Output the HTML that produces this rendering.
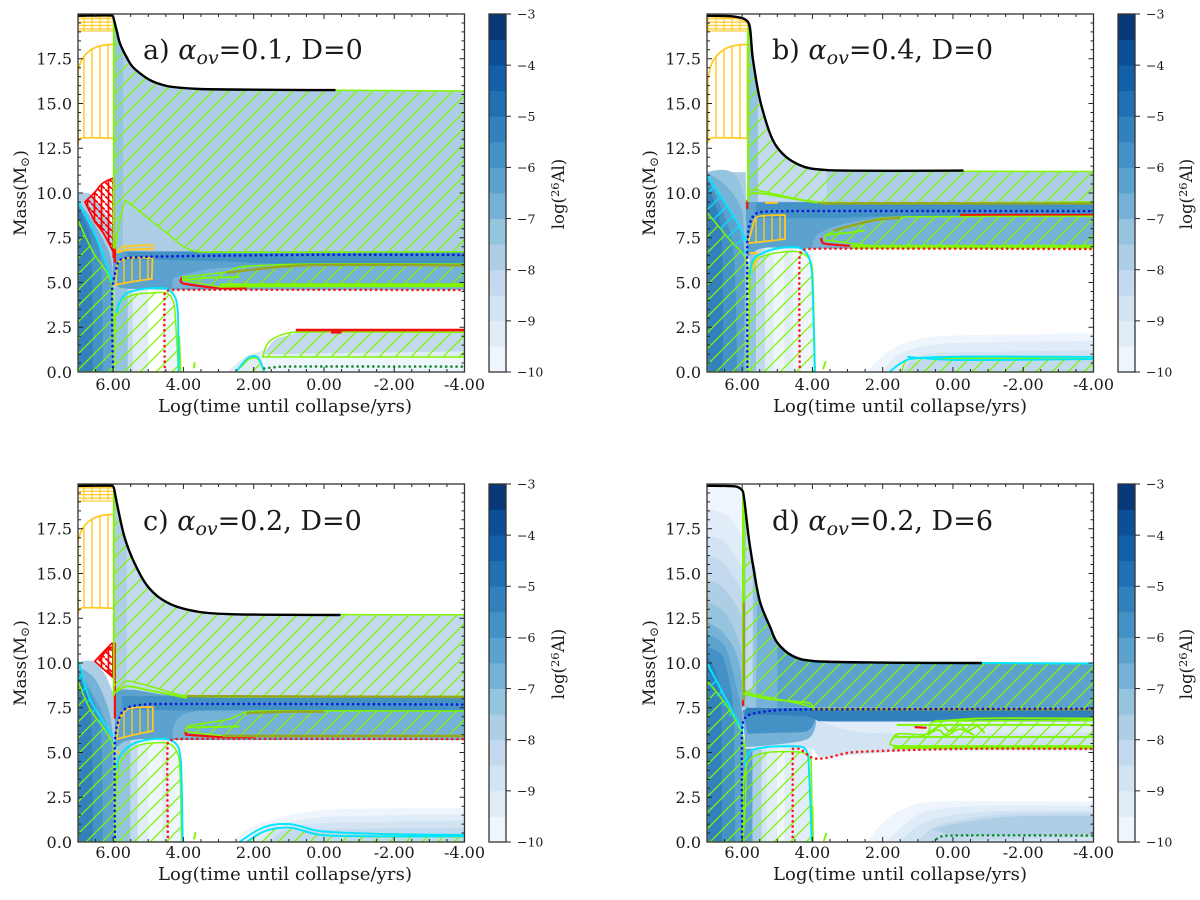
<!DOCTYPE html>
<html lang="en">
<head>
<meta charset="utf-8">
<title>26Al abundance in stellar interiors</title>
<style>
html,body{margin:0;padding:0;background:#fff;}
svg{display:block;}
text{font-family:"DejaVu Serif","Liberation Serif",serif;fill:#1a1a1a;}
</style>
</head>
<body>
<svg id="figure" xmlns="http://www.w3.org/2000/svg" width="1200" height="900" viewBox="0 0 1200 900">
<defs>
<pattern id="hatch-green" patternUnits="userSpaceOnUse" width="16" height="16"><path d="M-4,4L4,-4M0,16L16,0M12,20L20,12" stroke="#80f500" stroke-width="1.3" fill="none"/></pattern>
<pattern id="hatch-cyan" patternUnits="userSpaceOnUse" width="16" height="16" patternTransform="translate(5,0)"><path d="M-4,4L4,-4M0,16L16,0M12,20L20,12" stroke="#00e5ff" stroke-width="1.2" fill="none"/></pattern>
<pattern id="hatch-gold-v" patternUnits="userSpaceOnUse" width="8" height="8"><path d="M4,0V8" stroke="#ffc820" stroke-width="1.4" fill="none"/></pattern>
<pattern id="hatch-gold-h" patternUnits="userSpaceOnUse" width="8" height="3.4"><path d="M0,1.7H8M4,0V3.4" stroke="#ffc820" stroke-width="1.1" fill="none"/></pattern>
<pattern id="hatch-red" patternUnits="userSpaceOnUse" width="7" height="7"><path d="M3.5,0V7M-1,-1L8,8" stroke="#f00" stroke-width="1.7" fill="none"/></pattern>
</defs>
<g id="marks"></g>

<g>
<text x="285" y="412" font-size="18" text-anchor="middle" textLength="254">Log(time until collapse/yrs)</text>
<text x="900" y="412" font-size="18" text-anchor="middle" textLength="254">Log(time until collapse/yrs)</text>
<text x="285" y="880" font-size="18" text-anchor="middle" textLength="254">Log(time until collapse/yrs)</text>
<text x="900" y="880" font-size="18" text-anchor="middle" textLength="254">Log(time until collapse/yrs)</text>
<text transform="translate(26,193) rotate(-90)" font-size="17" text-anchor="middle">Mass(M<tspan font-size="12" dy="3">⊙</tspan><tspan dy="-3">)</tspan></text>
<text transform="translate(655,193) rotate(-90)" font-size="17" text-anchor="middle">Mass(M<tspan font-size="12" dy="3">⊙</tspan><tspan dy="-3">)</tspan></text>
<text transform="translate(26,663) rotate(-90)" font-size="17" text-anchor="middle">Mass(M<tspan font-size="12" dy="3">⊙</tspan><tspan dy="-3">)</tspan></text>
<text transform="translate(655,663) rotate(-90)" font-size="17" text-anchor="middle">Mass(M<tspan font-size="12" dy="3">⊙</tspan><tspan dy="-3">)</tspan></text>
<text transform="translate(564,194) rotate(-90)" font-size="16.5" text-anchor="middle">log(<tspan font-size="11.5" dy="-5">26</tspan><tspan dy="5">Al)</tspan></text>
<text transform="translate(1192,194) rotate(-90)" font-size="16.5" text-anchor="middle">log(<tspan font-size="11.5" dy="-5">26</tspan><tspan dy="5">Al)</tspan></text>
<text transform="translate(564,664) rotate(-90)" font-size="16.5" text-anchor="middle">log(<tspan font-size="11.5" dy="-5">26</tspan><tspan dy="5">Al)</tspan></text>
<text transform="translate(1192,664) rotate(-90)" font-size="16.5" text-anchor="middle">log(<tspan font-size="11.5" dy="-5">26</tspan><tspan dy="5">Al)</tspan></text>
</g>

<g>
<text x="143" y="59" font-size="27">a) <tspan font-style="italic">α</tspan><tspan font-style="italic" font-size="19" dy="5">ov</tspan><tspan dy="-5">=0.1, D=0</tspan></text>
<text x="772" y="59" font-size="27">b) <tspan font-style="italic">α</tspan><tspan font-style="italic" font-size="19" dy="5">ov</tspan><tspan dy="-5">=0.4, D=0</tspan></text>
<text x="143" y="530" font-size="27">c) <tspan font-style="italic">α</tspan><tspan font-style="italic" font-size="19" dy="5">ov</tspan><tspan dy="-5">=0.2, D=0</tspan></text>
<text x="772" y="530" font-size="27">d) <tspan font-style="italic">α</tspan><tspan font-style="italic" font-size="19" dy="5">ov</tspan><tspan dy="-5">=0.2, D=6</tspan></text>
</g>
</svg>

<script>
// ---------- shared axis data ----------
const xTickValues = [6, 4, 2, 0, -2, -4];
const yTickValues = [0, 2.5, 5, 7.5, 10, 12.5, 15, 17.5];
const colorbarTicks = [-10, -9, -8, -7, -6, -5, -4, -3];
const logAlLevels = [-10, -9.5, -9, -8.5, -8, -7.5, -7, -6.5, -6, -5.5, -5, -4.5, -4, -3.5, -3];
const levelColors = ['#eff5fc','#e0ecf7','#d2e3f3','#c3d9ee','#aecee6','#95c4df','#76b2d8','#5ba2cf','#4491c6','#3280bc','#2070b4','#1460a8','#0a4f97','#083877'];

// early-evolution burning regions (time, mass)
const topGoldBand = [[7,19.05],[5.98,19.05],[5.98,19.85],[7,19.85]];
const goldEnvelopeHatch = [[7,12.7],[6.93,13.05],[5.98,13.05],[5.98,18.3],[6.4,18.2],[6.7,17.9],[6.9,17.4],[7,16.8]];
const bTopGoldBand = [[7,19.05],[5.85,19.05],[5.85,19.45],[6.2,19.75],[7,19.85]];
const bGoldEnvelopeHatch = [[7,12.7],[6.9,13.05],[5.85,13.05],[5.85,18.3],[6.3,18.2],[6.6,17.9],[6.85,17.3],[7,16.1]];

// ---------- panel a ----------
const aSurface = [[7,19.9],[6.02,19.9],[5.98,19.7],[5.89,19],[5.81,18.38],[5.62,17.6],[5.44,17.04],[4.95,16.31],[4.47,15.98],[3.53,15.81],[-0.33,15.75]];
const aCoreBands = [[5.95,5.58,5],[5.58,5.44,3],[5.44,5.0,1],[4.55,4.16,0]];
const aCoreTop = 4.8;
const aFills = [
 {level:4,pts:[[7,9.95],[6.65,9.95],[6.0,8],[5.95,6.5],[5.95,0],[7,0]]},
 {level:6,pts:[[7,9.5],[6.7,8.8],[6.1,6.6],[6,5],[6,0],[7,0]]},
 {level:7,pts:[[7,9.45],[6.2,6.2],[6.05,5],[6.05,0],[7,0]]},
 {level:8,pts:[[7,9.3],[6.4,6.9],[6.29,0],[7,0]]},
 {level:9,pts:[[7,9.2],[6.65,7.6],[6.57,0],[7,0]]},
 {level:4,pts:[[5.98,19.7],[5.89,19],[5.81,18.38],[5.62,17.6],[5.44,17.04],[4.95,16.31],[4.47,15.98],[3.53,15.81],[-4,15.7],[-4,6.7],[5.98,6.7]]},
 {level:5,pts:[[5.98,19.7],[5.89,19],[5.81,18.38],[5.72,17.9],[5.72,6.7],[5.98,6.7]]},
 {level:7,pts:[[6.0,6.75],[-4,6.75],[-4,4.6],[4.5,4.6],[5.6,4.65],[5.85,4.75],[6.0,5]]},
 {level:8,pts:[[5.6,6.72],[-4,6.72],[-4,6.05],[1,6.05],[3.2,6.2],[5.6,6.3]]},
 {level:6,pts:[[4.3,4.7],[4.3,5.2],[3.4,5.7],[2.4,5.87],[0.69,6.03],[-4,6.0],[-4,4.6]]},
 {level:1,pts:[[2.75,0],[2.2,0.9],[1.75,1.2],[1.3,1.7],[1.5,0]]},
 {level:0,pts:[[1.75,0],[1.75,0.95],[-4,0.95],[-4,0]]},
 {level:1,pts:[[1.74,0.85],[-4,0.84],[-4,1.2],[1.6,1.25]]},
 {level:3,pts:[[1.7,1.0],[1.4,1.8],[1.0,2.05],[0.7,2.25],[-4,2.25],[-4,1.15]]}
];
const aGreenHatch = [
 [[5.98,19.7],[5.89,19],[5.81,18.38],[5.62,17.6],[5.44,17.04],[4.95,16.31],[4.47,15.98],[3.53,15.81],[-4,15.7],[-4,6.72],[3.6,6.72],[4.0,7.0],[4.47,7.77],[4.95,8.5],[5.42,9.25],[5.66,9.6],[5.8,8.5],[5.95,6.9],[5.98,6.9]],
 [[4.02,5.14],[4.02,5.3],[2.77,5.6],[2.4,5.87],[0.69,6.03],[-4,6.03],[-4,4.9],[0.69,4.8],[2.96,4.75]],
 [[5.98,0],[5.93,3.1],[5.81,3.85],[5.44,4.3],[4.95,4.41],[4.47,4.41],[4.3,4.0],[4.24,3.3],[4.14,0]],
 [[1.74,0.84],[1.6,1.6],[1.3,2.0],[0.9,2.22],[-4,2.22],[-4,0.84]],
 [[7,8.5],[6.6,6.8],[6.05,4.97],[5.98,0],[7,0]],
 [[2.5,0],[2.15,0.7],[1.9,0.75],[1.7,0]]
];
const aCyanHatch = [];
const aGoldHatch = [[[5.89,6.09],[5.6,6.37],[4.88,6.37],[4.9,5.2],[5.5,5.03],[5.92,4.86]]];
const aRedHatch = [[[6.8,9.5],[6.52,10.05],[6.29,10.56],[5.98,10.84],[5.98,6.65],[6.29,7.8],[6.52,8.38]]];
const aRedLines = [[[4.02,5.3],[4.08,5.1],[4.02,4.95],[2.96,4.68],[2.2,4.7]],[[5.99,10.85],[5.99,6.35]],[[5.95,7.1],[5.95,6.1]]];
const aTopRedLines = [[[0.8,2.34],[-4,2.34]],[[-0.2,2.22],[-0.5,2.22]]];
const aOliveLines = [[[2.77,5.55],[0.69,5.95],[-4,5.95]]];
const aThickGreen = [[[2.96,4.85],[-4,4.85]]];
const aGreenLines = [[[5.98,19.6],[5.98,6.9]],[[4.02,5.14],[3.4,5.25],[2.4,5.3]],[[4.12,2.0],[4.08,0]],[[3.7,0.2],[3.68,0.55]]];
const aCyanLines = [[[6.97,9.44],[6.5,7.6],[6.03,5.03]],[[5.9,3.3],[5.81,3.9],[5.61,4.4],[5.15,4.64],[4.47,4.64],[4.24,4.2],[4.16,3.4],[4.14,0]],[[2.5,0],[2.15,0.8],[1.9,0.85],[1.7,0]]];
const aGoldLines = [[[5.89,6.65],[5.75,6.98],[4.88,7.09],[4.88,6.87],[5.64,6.82],[5.89,6.65]]];
const aBlueDots = [[6,0],[6.03,4.6],[5.92,5.7],[5.81,6.25],[5.33,6.42],[0.69,6.54],[-4,6.54]];
const aRedDots = [[4.53,0],[4.53,4.4],[4.4,4.58],[-4,4.58]];
const aGreenDots = [[1.7,0.2],[1.2,0.3],[-4,0.3]];

// ---------- panel b ----------
const bSurface = [[7,19.9],[6.2,19.85],[5.83,19.55],[5.69,17.43],[5.44,14.8],[5.01,12.57],[4.36,11.56],[3.59,11.28],[-0.3,11.25]];
const bCoreBands = [[5.8,5.6,5],[5.6,5.35,3],[5.35,5.1,1],[5.1,4.8,0],[4.8,4.55,1],[4.55,3.97,0]];
const bCoreTop = 7;
const bFills = [
 {level:4,pts:[[7,11.17],[5.9,11.17],[5.85,7],[5.85,0],[7,0]]},
 {level:5,pts:[[7,11.17],[6.3,11.17],[5.9,9.5],[5.85,0],[7,0]]},
 {level:6,pts:[[7,11.1],[6.5,10.5],[6.0,9],[5.9,0],[7,0]]},
 {level:7,pts:[[7,11],[6.2,8.5],[5.95,7],[5.95,0],[7,0]]},
 {level:8,pts:[[7,10.8],[6.3,7.5],[6.15,0],[7,0]]},
 {level:9,pts:[[7,10.5],[6.6,8.2],[6.55,0],[7,0]]},
 {level:4,pts:[[5.83,19.55],[5.69,17.43],[5.44,14.8],[5.01,12.57],[4.36,11.56],[3.59,11.28],[-4,11.2],[-4,9.4],[5.83,9.4]]},
 {level:5,pts:[[5.83,19.55],[5.69,17.43],[5.55,15.5],[5.55,9.5],[5.83,9.5]]},
 {level:3,pts:[[5.55,15.5],[5.44,14.8],[5.01,12.57],[4.36,11.56],[3.59,11.28],[3.59,9.5],[5.55,9.5]]},
 {level:7,pts:[[5.9,9.5],[-4,9.5],[-4,6.9],[4.4,6.9],[5.3,6.95],[5.6,6.8],[5.85,6.4]]},
 {level:8,pts:[[5.6,9.45],[-4,9.45],[-4,8.75],[1.8,8.7],[3.3,8.6],[5.6,8.6]]},
 {level:6,pts:[[4.0,6.95],[3.9,7.6],[3.4,8.1],[2.8,8.4],[2.1,8.6],[-4,8.75],[-4,6.9]]},
 {level:0,pts:[[2.45,0],[2,0.9],[1.4,1.6],[0.5,2],[-4,2.15],[-4,0]]},
 {level:1,pts:[[2.0,0],[1.6,0.9],[1.0,1.35],[0.2,1.6],[-4,1.75],[-4,0]]},
 {level:2,pts:[[1.6,0],[1.2,0.7],[0.6,1.05],[-4,1.2],[-4,0]]},
 {level:3,pts:[[1.4,0],[1.2,0.6],[-4,0.8],[-4,0]]}
];
const bGreenHatch = [
 [[5.83,19.4],[5.69,17.43],[5.44,14.8],[5.01,12.57],[4.36,11.56],[3.59,11.28],[-4,11.2],[-4,9.5],[3.87,9.5],[5.58,10.17],[5.8,10.17],[5.83,9.5]],
 [[3.65,7.5],[3.65,7.6],[3.3,7.93],[2.74,8.2],[2.17,8.55],[1.43,8.66],[0.09,8.68],[-4,8.7],[-4,6.98],[2.17,7.04],[2.94,7.2],[3.65,7.37]],
 [[5.83,0],[5.78,5],[5.69,6.09],[5.29,6.54],[4.84,6.7],[4.36,6.7],[4.07,6.26],[3.99,5.42],[3.93,0]],
 [[1.45,0],[1.31,0.67],[0.09,0.78],[-4,0.75],[-4,0]],
 [[7,8.9],[6.4,7.5],[5.85,6.1],[5.85,0],[7,0]]
];
const bCyanHatch = [[[7,11],[6.1,8.2],[5.87,7.2],[5.85,6.1],[6.4,7.5],[7,8.9]]];
const bGoldHatch = [[[5.69,8.2],[5.58,8.66],[4.78,8.77],[4.78,7.43],[5.5,7.26],[5.83,7.2]]];
const bRedHatch = [];
const bRedLines = [[[-0.2,8.77],[-4,8.77]],[[3.75,7.5],[3.7,7.2],[2.94,7.05]],[[5.85,9.6],[5.85,9.1]]];
const bTopRedLines = [];
const bOliveLines = [[[3.4,7.9],[2.3,8.45],[1.5,8.62]],[[3.8,9.42],[-4,9.42]]];
const bThickGreen = [[[2.9,7.0],[-4,7.0]]];
const bGreenLines = [[[5.83,19.2],[5.83,9.5]],[[5.83,9.9],[5.58,10.0],[3.87,9.45]],[[3.6,7.65],[2.9,7.8],[2.5,7.9]],[[3.95,2],[3.93,0]],[[3.7,0.15],[3.62,0.6]]];
const bCyanLines = [[[7,11],[6.1,8.2],[5.87,7.2]],[[5.78,5.4],[5.69,6.26],[5.41,6.65],[4.92,6.93],[4.36,6.93],[4.13,6.54],[4.02,5.7],[3.93,0]],[[1.8,0],[1.31,0.67],[0.09,0.85],[-4,0.85]],[[1.3,0.85],[0.09,0.68],[-4,0.72]]];
const bGoldLines = [[[5.8,6.65],[5.58,6.65],[5.58,6.26],[5.83,5.42]],[[5.35,9.45],[4.98,9.45]]];
const bBlueDots = [[5.85,0],[5.85,7.2],[5.78,8.32],[5.58,8.88],[4.64,8.99],[-4,8.99]];
const bRedDots = [[4.36,0],[4.36,6.6],[4.2,6.87],[-4,6.87]];
const bGreenDots = [];

// ---------- panel c ----------
const cSurface = [[7,19.9],[6.02,19.9],[5.98,19.8],[5.86,18.6],[5.66,16.93],[5.38,15.53],[4.95,14.13],[4.38,13.3],[3.53,12.85],[2.5,12.72],[-0.47,12.68]];
const cCoreBands = [[5.93,5.5,5],[5.5,5.3,3],[5.3,5.0,1],[5.0,4.6,0],[4.6,4.45,1],[4.45,4.05,0]];
const cCoreTop = 6;
const cFills = [
 {level:4,pts:[[7,10.05],[6.5,10.05],[6.0,8.3],[5.9,6.5],[5.95,0],[7,0]]},
 {level:6,pts:[[7,9.8],[6.55,9.2],[6.15,7.5],[6,5.8],[5.95,0],[7,0]]},
 {level:7,pts:[[7,9.7],[6.3,7.2],[6.05,5.4],[6,0],[7,0]]},
 {level:8,pts:[[7,9.5],[6.4,7],[6.3,0],[7,0]]},
 {level:9,pts:[[7,9.3],[6.65,7.6],[6.57,0],[7,0]]},
 {level:3,pts:[[5.98,19.8],[5.86,18.6],[5.66,16.93],[5.38,15.53],[4.95,14.13],[4.38,13.3],[3.53,12.85],[2.5,12.72],[-4,12.7],[-4,8.1],[5.98,8.1]]},
 {level:4,pts:[[5.98,19.8],[5.86,18.6],[5.66,16.93],[5.62,16.7],[5.62,8.5],[5.98,8.5]]},
 {level:7,pts:[[5.95,8.5],[5.4,8.5],[4.4,8.2],[-4,8.15],[-4,5.7],[4.4,5.7],[5.2,5.75],[5.7,5.6],[5.95,5.2]]},
 {level:8,pts:[[5.75,8.15],[-4,8.15],[-4,7.33],[4,7.35],[5.75,7.4]]},
 {level:6,pts:[[4.3,5.8],[4.3,6.3],[4.1,7.0],[3.5,7.33],[-4,7.33],[-4,5.75]]},
 {level:0,pts:[[2.65,0],[2.1,0.8],[1.2,1.4],[0,1.8],[-4,1.9],[-4,0]]},
 {level:1,pts:[[2.2,0],[1.7,0.8],[1,1.1],[0,1.4],[-4,1.55],[-4,0]]},
 {level:2,pts:[[1.8,0],[1.4,0.7],[0.5,1.0],[-1,1.1],[-4,1.2],[-4,0]]},
 {level:3,pts:[[1.5,0],[1.2,0.6],[0.2,0.7],[-4,0.8],[-4,0]]}
];
const cGreenHatch = [
 [[5.98,19.6],[5.86,18.6],[5.66,16.93],[5.38,15.53],[4.95,14.13],[4.38,13.3],[3.53,12.85],[2.5,12.72],[-4,12.7],[-4,8.15],[3.9,8.15],[4.88,8.66],[5.61,9],[5.81,8.7],[5.98,8.2]],
 [[3.95,6.2],[3.87,6.48],[2.68,6.87],[2.2,7.26],[1,7.33],[-4,7.32],[-4,5.95],[2.88,5.95],[3.67,6.09]],
 [[5.95,0],[5.89,3.69],[5.7,4.75],[5.3,5.36],[4.87,5.53],[4.38,5.47],[4.16,4.92],[4.1,4.08],[4.05,0]],
 [[2.15,0],[1.69,0.6],[0.98,0.8],[0.12,0.4],[-1.58,0.3],[-4,0.3],[-4,0]],
 [[7,9],[6.66,7.43],[6.0,5.36],[5.95,0],[7,0]]
];
const cCyanHatch = [[[7,10.05],[6.66,8],[6.0,5.92],[6.0,5.36],[6.66,7.43],[7,9]]];
const cGoldHatch = [[[5.89,5.75],[5.81,6.87],[5.58,7.43],[4.87,7.54],[4.87,6.2],[5.44,5.98]]];
const cRedHatch = [[[6.52,10.1],[6.03,11.1],[5.95,11.1],[5.95,9.1],[6.18,9.5]]];
const cRedLines = [[[3.95,6.25],[3.93,6.0],[2.88,5.87],[2,5.87]],[[5.95,9.0],[5.95,6.9]],[[6.4,10.1],[6.2,10.7],[6,10.9],[6,9.3],[6.2,9.6]]];
const cTopRedLines = [];
const cOliveLines = [[[3.9,8.15],[-4,8.1]],[[2.88,5.92],[-4,5.92]],[[2.2,7.2],[1,7.28],[0,7.28]]];
const cThickGreen = [];
const cGreenLines = [[[5.98,19.6],[5.98,8.2]],[[5.9,8.4],[5.61,8.7],[4.8,8.4],[3.9,8.05]],[[3.9,6.4],[2.4,6.45]],[[4.05,2],[4.03,0]],[[3.7,0.15],[3.65,0.55]]];
const cCyanLines = [[[6.97,10.05],[6.66,8],[6.0,5.92]],[[5.89,4.08],[5.81,4.8],[5.44,5.47],[4.87,5.75],[4.38,5.7],[4.16,5.36],[4.07,4.47],[4.02,0]],[[2.4,0],[1.69,0.84],[0.98,1.0],[0.12,0.61],[-1.58,0.45],[-4,0.4]],[[2.2,0],[1.69,0.6],[0.98,0.8],[0.12,0.4],[-1.58,0.32],[-4,0.32]]];
const cGoldLines = [[[5.89,5.08],[5.81,4.9],[5.89,4.25]]];
const cBlueDots = [[5.95,0],[5.95,5.6],[5.86,6.7],[5.66,7.43],[5.04,7.7],[-4,7.68]];
const cRedDots = [[4.44,0],[4.44,5.55],[4.25,5.75],[-4,5.75]];
const cGreenDots = [];

// ---------- panel d ----------
const dSurface = [[7,19.9],[6.15,19.85],[5.98,19.6],[5.78,16.54],[5.49,13.4],[5.2,12],[5.01,11.17],[4.56,10.39],[3.99,10.11],[2,10.02],[-0.82,10.0]];
const dCoreBands = [[5.98,5.7,7],[5.7,5.45,4],[5.45,5.3,2],[5.3,5.0,1],[5.0,4.8,0],[4.8,4.5,1],[4.5,4.0,1]];
const dCoreTop = 5.6;
const dFills = [
 {level:0,pts:[[7,19.7],[6.85,19.9],[6.15,19.9],[5.98,19.7],[5.98,0],[7,0]]},
 {level:1,pts:[[7,18.6],[6.6,18.4],[6.3,18],[6,16.9],[6,0],[7,0]]},
 {level:2,pts:[[7,17.1],[6.6,16.9],[6.3,16.3],[6,15.2],[6,0],[7,0]]},
 {level:3,pts:[[7,16],[6.6,15.7],[6.3,15],[6,13.9],[6,0],[7,0]]},
 {level:4,pts:[[7,14.7],[6.6,14.3],[6.3,13.6],[6,12.5],[6,0],[7,0]]},
 {level:5,pts:[[7,13.4],[6.6,13],[6.3,12.2],[6,10.4],[6,0],[7,0]]},
 {level:6,pts:[[7,12.3],[6.6,11.8],[6.2,10.7],[6,8.8],[6,0],[7,0]]},
 {level:7,pts:[[7,11.6],[6.6,11.2],[6.4,10.5],[6.2,9],[6,7],[6,0],[7,0]]},
 {level:8,pts:[[7,10.9],[6.6,10.5],[6.4,9.3],[6.25,7.5],[6.2,0],[7,0]]},
 {level:9,pts:[[7,10.4],[6.75,9.5],[6.6,8],[6.57,0],[7,0]]},
 {level:7,pts:[[5.98,19.6],[5.78,16.54],[5.49,13.4],[5.2,12],[5.01,11.17],[4.56,10.39],[3.99,10.11],[2,10.02],[-4,9.95],[-4,7.4],[5.98,7.4]]},
 {level:6,pts:[[5.6,15],[5.49,13.4],[5.2,12],[5.01,11.17],[5.0,7.5],[5.6,7.5]]},
 {level:5,pts:[[5.98,19.6],[5.78,16.54],[5.6,15],[5.6,7.5],[5.98,7.5]]},
 {level:3,pts:[[5.9,17.5],[5.78,16.54],[5.7,15.8],[5.7,8.5],[5.9,8.5]]},
 {level:2,pts:[[6,7.5],[-4,7.5],[-4,5.1],[1,5.1],[3,4.85],[3.8,4.75],[4.0,5.2],[5.9,5.2]]},
 {level:1,pts:[[3.9,6.8],[-4,6.8],[-4,6.1],[2.5,6.1],[3.3,6.4]]},
 {level:6,pts:[[6,7.3],[3.95,7.3],[3.9,6.6],[4.1,5.8],[5,5.45],[5.9,5.3]]},
 {level:8,pts:[[5.98,7.4],[3.95,7.4],[3.95,6.7],[4.15,6.2],[5,6.1],[5.85,6.05]]},
 {level:9,pts:[[5.9,7.5],[-4,7.45],[-4,6.75],[3.8,6.75],[4.1,7.0],[5.6,7.1],[5.9,7.0]]},
 {level:0,pts:[[2.45,0],[1.88,1.28],[1.03,2.12],[-0.2,2.29],[-4,2.25],[-4,0]]},
 {level:1,pts:[[1.9,0],[1.3,1.1],[0.8,1.7],[-0.5,2],[-4,2.0],[-4,0]]},
 {level:2,pts:[[1.5,0],[1,0.9],[0.3,1.4],[-1,1.7],[-4,1.75],[-4,0]]},
 {level:3,pts:[[1,0],[0.6,0.8],[-0.3,1.25],[-1.5,1.55],[-4,1.6],[-4,0.3]]},
 {level:4,pts:[[0.6,0.7],[0,1],[-1.5,1.4],[-4,1.45],[-4,0.4],[0,0.35]]}
];
const dGreenHatch = [
 [[5.98,19.5],[5.78,16.54],[5.49,13.4],[5.2,12],[5.01,11.17],[4.56,10.39],[3.99,10.11],[2,10.02],[-4,9.95],[-4,7.42],[3.99,7.42],[4.1,7.6],[5.29,8.1],[5.98,8.4]],
 [[1.8,5.47],[1.6,6.03],[0.75,6.03],[0.58,6.7],[-0.2,6.76],[-4,6.8],[-4,5.3],[1.6,5.3]],
 [[5.98,0],[5.95,3.5],[5.78,4.6],[5.29,5],[4.3,5],[4.07,4.75],[4.03,3.9],[4.0,0]],
 [[7,9],[5.98,5.9],[5.98,0],[7,0]]
];
const dCyanHatch = [[[7,10],[5.98,6.2],[5.98,5.9],[7,9]]];
const dGoldHatch = [];
const dRedHatch = [];
const dRedLines = [[[1.09,6.42],[0.75,6.38]],[[5.97,7.95],[5.97,7.6]]];
const dTopRedLines = [];
const dOliveLines = [[[5.95,13.4],[5.95,7.9]],[[3.99,7.42],[-4,7.42]]];
const dThickGreen = [[[1.7,5.3],[-4,5.3]]];
const dGreenLines = [[[5.95,19],[5.95,13.4]],[[5.98,8.3],[5.29,8.0],[4.06,7.75],[3.99,7.45]],[[1.6,6.54],[-0.4,6.54],[-1.3,6.54],[-4,6.54]],[[1.7,5.87],[-4,5.87]],[[0.58,6.7],[-0.7,6.9],[-4,6.9]],[[0.7,6.1],[0.3,6.5],[0.1,6.2],[-0.2,6.6],[-0.4,6.15],[-0.7,6.5],[-0.9,6.1]],[[0.9,5.9],[0.4,6.25],[0.2,5.95],[-0.2,6.3],[-0.6,5.95]],[[4.0,2],[3.98,0]],[[3.68,0.05],[3.6,0.5]]];
const dCyanLines = [[[7,10],[5.98,6.2]],[[5.93,4.25],[5.78,5.03],[5.29,5.3],[4.27,5.3],[4.13,4.92],[4.02,0]],[[3.99,10.05],[-4,9.97]]];
const dGoldLines = [[[7,14.9],[7,11.8]]];
const dBlueDots = [[6,0],[6,6.3],[5.89,7.0],[5.29,7.3],[4.56,7.4],[-4,7.45]];
const dRedDots = [[4.56,0],[4.56,5.2],[4.36,5.2],[3.99,4.7],[3.6,4.7],[2.94,5.0],[-0.2,5.2],[-4,5.2]];
const dGreenDots = [[0.58,0],[0.29,0.34],[-4,0.36]];

// ---------- panel assembly (refers to the data arrays above) ----------
const panelData = {
 a:{surface:aSurface,coreBands:aCoreBands,coreTop:aCoreTop,fills:aFills,greenHatch:aGreenHatch,cyanHatch:aCyanHatch,goldHatch:aGoldHatch,redHatch:aRedHatch,red:aRedLines,topRed:aTopRedLines,olive:aOliveLines,thick:aThickGreen,green:aGreenLines,cyan:aCyanLines,gold:aGoldLines,blueDots:aBlueDots,redDots:aRedDots,greenDots:aGreenDots,topGold:topGoldBand,envGold:goldEnvelopeHatch},
 b:{surface:bSurface,coreBands:bCoreBands,coreTop:bCoreTop,fills:bFills,greenHatch:bGreenHatch,cyanHatch:bCyanHatch,goldHatch:bGoldHatch,redHatch:bRedHatch,red:bRedLines,topRed:bTopRedLines,olive:bOliveLines,thick:bThickGreen,green:bGreenLines,cyan:bCyanLines,gold:bGoldLines,blueDots:bBlueDots,redDots:bRedDots,greenDots:bGreenDots,topGold:bTopGoldBand,envGold:bGoldEnvelopeHatch},
 c:{surface:cSurface,coreBands:cCoreBands,coreTop:cCoreTop,fills:cFills,greenHatch:cGreenHatch,cyanHatch:cCyanHatch,goldHatch:cGoldHatch,redHatch:cRedHatch,red:cRedLines,topRed:cTopRedLines,olive:cOliveLines,thick:cThickGreen,green:cGreenLines,cyan:cCyanLines,gold:cGoldLines,blueDots:cBlueDots,redDots:cRedDots,greenDots:cGreenDots,topGold:topGoldBand,envGold:goldEnvelopeHatch},
 d:{surface:dSurface,coreBands:dCoreBands,coreTop:dCoreTop,fills:dFills,greenHatch:dGreenHatch,cyanHatch:dCyanHatch,goldHatch:dGoldHatch,redHatch:dRedHatch,red:dRedLines,topRed:dTopRedLines,olive:dOliveLines,thick:dThickGreen,green:dGreenLines,cyan:dCyanLines,gold:dGoldLines,blueDots:dBlueDots,redDots:dRedDots,greenDots:dGreenDots,topGold:null,envGold:null}
};

// ---------- rendering ----------
const NS = 'http://www.w3.org/2000/svg';
const frame = {a:{l:78,b:372,tk:18},b:{l:707,b:372,tk:18},c:{l:78,b:842,tk:16},d:{l:707,b:842,tk:16}};
const W = 386.5, H = 358, CB_GAP = 24.5, CB_W = 17;
const root = document.getElementById('marks');
const defs = document.querySelector('#figure defs');

function mk(tag, attrs, parent){
  const el = document.createElementNS(NS, tag);
  for (const k in attrs) el.setAttribute(k, attrs[k]);
  parent.appendChild(el);
  return el;
}
// Smooth curve through screen points: handles are limited by the shorter neighbouring
// segment, so long straight runs stay straight and sharp corners stay sharp.
function smoothPath(p, closed){
  const n = p.length, tan = [];
  for (let i = 0; i < n; i++){
    if (i === 0 || i === n-1){ tan.push(null); continue; }
    let ax = p[i][0]-p[i-1][0], ay = p[i][1]-p[i-1][1], bx = p[i+1][0]-p[i][0], by = p[i+1][1]-p[i][1];
    const la = Math.hypot(ax,ay)||1, lb = Math.hypot(bx,by)||1;
    ax/=la; ay/=la; bx/=lb; by/=lb;
    if (ax*bx+ay*by < 0.25){ tan.push(null); continue; }
    const tx = ax+bx, ty = ay+by, lt = Math.hypot(tx,ty)||1, h = Math.min(la,lb)*0.38;
    tan.push([tx/lt*h, ty/lt*h]);
  }
  let d = 'M'+p[0][0].toFixed(1)+','+p[0][1].toFixed(1);
  for (let i = 0; i < n-1; i++){
    const c1 = tan[i] ? [p[i][0]+tan[i][0], p[i][1]+tan[i][1]] : p[i];
    const c2 = tan[i+1] ? [p[i+1][0]-tan[i+1][0], p[i+1][1]-tan[i+1][1]] : p[i+1];
    d += 'C'+c1[0].toFixed(1)+','+c1[1].toFixed(1)+' '+c2[0].toFixed(1)+','+c2[1].toFixed(1)+' '+p[i+1][0].toFixed(1)+','+p[i+1][1].toFixed(1);
  }
  return d + (closed ? 'Z' : '');
}
Object.keys(panelData).forEach(function(id){
  const P = panelData[id], F = frame[id];
  const xs = function(t){ return F.l + (7 - t) * W / 11; };
  const ys = function(m){ return F.b - m * H / 20; };
  const path = function(pts, closed){
    return smoothPath(pts.map(function(p){ return [xs(p[0]), ys(p[1])]; }), closed);
  };
  const g = mk('g', {}, root);
  
  
  const clip = mk('clipPath', {id:'clip-' + id}, defs);
  mk('rect', {x:F.l, y:F.b - H, width:W, height:H}, clip);
  const plot = mk('g', {'clip-path':'url(#clip-' + id + ')'}, g);
  
  

  P.coreBands.forEach(function(b){
    const band = mk('path', {d:path([[b[0],0],[b[0],P.coreTop],[b[1],P.coreTop],[b[1],0]], true), fill:levelColors[b[2]]}, plot);
    
    
  });
  P.fills.forEach(function(f){
    const c = mk('path', {d:path(f.pts, true), fill:levelColors[f.level]}, plot);
    
    
  });
  if (P.topGold){
    const h = mk('path', {d:path(P.topGold, true), fill:'url(#hatch-gold-h)', stroke:'#ffc820', 'stroke-width':1}, plot);
    
    
    const v = mk('path', {d:path(P.envGold, true), fill:'url(#hatch-gold-v)', stroke:'#ffc820', 'stroke-width':1.7}, plot);
    
    
  }
  P.red.forEach(function(pts){
    const el = mk('path', {d:path(pts), fill:'none', stroke:'#f50e0e', 'stroke-width':2.2}, plot);
    
    
  });
  P.greenHatch.forEach(function(pts){
    const el = mk('path', {d:path(pts, true), fill:'url(#hatch-green)', stroke:'#80f500', 'stroke-width':1.5}, plot);
    
    
  });
  P.cyanHatch.forEach(function(pts){
    const el = mk('path', {d:path(pts, true), fill:'url(#hatch-cyan)'}, plot);
    
    
  });
  P.goldHatch.forEach(function(pts){
    const el = mk('path', {d:path(pts, true), fill:'url(#hatch-gold-v)', stroke:'#ffc820', 'stroke-width':1.8}, plot);
    
    
  });
  P.redHatch.forEach(function(pts){
    const el = mk('path', {d:path(pts, true), fill:'url(#hatch-red)', stroke:'#f00', 'stroke-width':1.7}, plot);
    
    
  });
  P.gold.forEach(function(pts){
    const el = mk('path', {d:path(pts), fill:'none', stroke:'#ffc820', 'stroke-width':2}, plot);
    
    
  });
  P.olive.forEach(function(pts){
    const el = mk('path', {d:path(pts), fill:'none', stroke:'#98a51e', 'stroke-width':2.4}, plot);
    
    
  });
  P.thick.forEach(function(pts){
    const el = mk('path', {d:path(pts), fill:'none', stroke:'#80f500', 'stroke-width':4}, plot);
    
    
  });
  P.green.forEach(function(pts){
    const el = mk('path', {d:path(pts), fill:'none', stroke:'#80f500', 'stroke-width':1.9}, plot);
    
    
  });
  P.topRed.forEach(function(pts){
    const el = mk('path', {d:path(pts), fill:'none', stroke:'#f50e0e', 'stroke-width':2.6}, plot);
    
    
  });
  P.cyan.forEach(function(pts){
    const el = mk('path', {d:path(pts), fill:'none', stroke:'#00e5ff', 'stroke-width':1.9}, plot);
    
    
  });
  [[P.greenDots,'#128a22'],[P.redDots,'#ff1515'],[P.blueDots,'#0a14dc']].forEach(function(d){
    if (!d[0].length) return;
    const el = mk('path', {d:path(d[0]), fill:'none', stroke:d[1], 'stroke-width':2.6, 'stroke-linecap':'round', 'stroke-dasharray':'0 5.2'}, plot);
    
    
  });
  const surf = mk('path', {d:path(P.surface), fill:'none', stroke:'#000', 'stroke-width':2.4}, g);
  
  

  // ticks
  const tickPath = [];
  for (let t = 7; t >= -4; t -= 0.5){
    const major = xTickValues.indexOf(t) >= 0, L = major ? 5 : 3, x = xs(t);
    tickPath.push('M'+x+','+F.b+'v'+(-L)+'M'+x+','+(F.b-H)+'v'+L);
  }
  for (let m = 0; m <= 20; m += 0.5){
    const major = yTickValues.indexOf(m) >= 0, L = major ? 5 : 3, y = ys(m);
    tickPath.push('M'+F.l+','+y+'h'+L+'M'+(F.l+W)+','+y+'h'+(-L));
  }
  const ticks = mk('path', {d:tickPath.join(''), stroke:'#222', 'stroke-width':1, fill:'none'}, g);
  
  
  const spine = mk('rect', {x:F.l, y:F.b-H, width:W, height:H, fill:'none', stroke:'#333', 'stroke-width':1.3}, g);
  
  

  xTickValues.forEach(function(t){
    const lab = mk('text', {x:xs(t), y:F.b+F.tk, 'font-size':16, 'text-anchor':'middle'}, g);
    
    
    lab.textContent = t.toFixed(2);
  });
  yTickValues.forEach(function(m){
    const lab = mk('text', {x:F.l-6, y:ys(m)+5.8, 'font-size':16, 'text-anchor':'end'}, g);
    
    
    lab.textContent = m.toFixed(1);
  });

  // colorbar
  const cbX = F.l + W + CB_GAP;
  const cy = function(v){ return F.b - (v + 10) * H / 7; };
  levelColors.forEach(function(col, i){
    const seg = mk('rect', {x:cbX, y:cy(logAlLevels[i+1]), width:CB_W, height:cy(logAlLevels[i]) - cy(logAlLevels[i+1]) + 0.4, fill:col}, g);
    
    
  });
  const cbFrame = mk('rect', {x:cbX, y:F.b-H, width:CB_W, height:H, fill:'none', stroke:'#333', 'stroke-width':1.3}, g);
  
  
  colorbarTicks.forEach(function(v){
    const tk = mk('path', {d:'M'+(cbX+CB_W)+','+cy(v)+'h5', stroke:'#222', 'stroke-width':1}, g);
    
    
    const lab = mk('text', {x:cbX+CB_W+11, y:cy(v)+4.7, 'font-size':12.5}, g);
    
    
    lab.textContent = '\u2212' + Math.abs(v);
  });
});
</script>
</body>
</html>
